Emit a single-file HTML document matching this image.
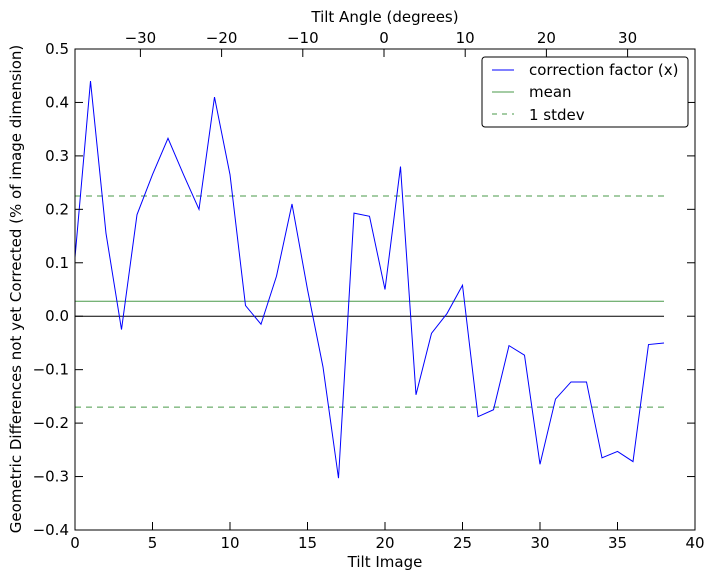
<!DOCTYPE html>
<html><head><meta charset="utf-8"><style>
body{margin:0;background:#fff;}
svg text{font-family:"DejaVu Sans","Liberation Sans",sans-serif;font-size:15px;fill:#000;}
</style></head><body>
<svg id="s" width="714" height="579" xmlns="http://www.w3.org/2000/svg">
<rect width="714" height="579" fill="#fff"/>
<g id="g"></g>
<rect x="75" y="49" width="620" height="481" fill="none" stroke="#000" stroke-width="1"/>
<text x="385" y="567" text-anchor="middle">Tilt Image</text>
<text x="385" y="22" text-anchor="middle">Tilt Angle (degrees)</text>
<text transform="translate(21,289) rotate(-90)" text-anchor="middle">Geometric Differences not yet Corrected (% of image dimension)</text>
<rect x="482" y="57" width="206" height="70" rx="3" fill="#fff" stroke="#000"/>
<line x1="492" y1="70" x2="514" y2="70" stroke="#00f"/>
<text x="529" y="75" font-size="14">correction factor (x)</text>
<line x1="492" y1="92" x2="514" y2="92" stroke="#4a9a4a"/>
<text x="529" y="97" font-size="14">mean</text>
<line x1="492" y1="114" x2="514" y2="114" stroke="#4a9a4a" stroke-dasharray="5,5"/>
<text x="529" y="120" font-size="14">1 stdev</text>
</svg>
<script>
var g=document.getElementById('g'),NS='http://www.w3.org/2000/svg';
function X(v){return 75+v*15.5}function Y(v){return 49+(0.5-v)*534.44}
function el(t,a,txt){var e=document.createElementNS(NS,t);for(var k in a)e.setAttribute(k,a[k]);if(txt!=null)e.textContent=txt;g.appendChild(e);return e;}
var d=[0.11,0.44,0.155,-0.025,0.19,0.265,0.333,0.265,0.2,0.41,0.265,0.02,-0.015,0.075,0.21,0.05,-0.095,-0.303,0.193,0.187,0.05,0.28,-0.147,-0.032,0.005,0.058,-0.188,-0.175,-0.055,-0.073,-0.277,-0.155,-0.123,-0.123,-0.265,-0.253,-0.272,-0.053,-0.05];
el('line',{x1:X(0),x2:X(38),y1:Y(0),y2:Y(0),stroke:'#000'});
el('line',{x1:X(0),x2:X(38),y1:Y(0.028),y2:Y(0.028),stroke:'#4a9a4a'});
el('line',{x1:X(0),x2:X(38),y1:Y(0.225),y2:Y(0.225),stroke:'#4a9a4a','stroke-dasharray':'6,5'});
el('line',{x1:X(0),x2:X(38),y1:Y(-0.17),y2:Y(-0.17),stroke:'#4a9a4a','stroke-dasharray':'6,5'});
el('polyline',{points:d.map(function(v,i){return X(i)+','+Y(v)}).join(' '),fill:'none',stroke:'#00f'});
for(var i=0;i<=8;i++){var x=X(i*5);el('line',{x1:x,x2:x,y1:530,y2:522,stroke:'#000'});el('text',{x:x,y:548,'text-anchor':'middle'},String(i*5));}
for(var j=-4;j<=5;j++){var y=Y(j/10);el('line',{x1:75,x2:83,y1:y,y2:y,stroke:'#000'});el('line',{x1:695,x2:687,y1:y,y2:y,stroke:'#000'});
el('text',{x:69,y:y+5,'text-anchor':'end'},(j<0?'\u2212':'')+(Math.abs(j)/10).toFixed(1));}
for(var a=-30;a<=30;a+=10){var x=384+a*8.12;el('line',{x1:x,x2:x,y1:49,y2:57,stroke:'#000'});el('text',{x:x,y:43,'text-anchor':'middle'},(a<0?'\u2212':'')+Math.abs(a));}
</script>
</body></html>
